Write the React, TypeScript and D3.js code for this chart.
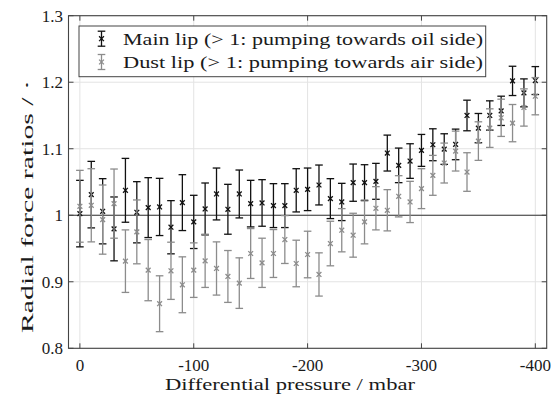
import React from "react";
import * as d3 from "d3";

const pressure = [0,-10,-20,-30,-40,-50,-60,-70,-80,-90,-100,-110,-120,-130,-140,-150,-160,-170,-180,-190,-200,-210,-220,-230,-240,-250,-260,-270,-280,-290,-300,-310,-320,-330,-340,-350,-360,-370,-380,-390,-400];
const mainVal = [1.0025,1.031,1.006,0.9795,1.0375,1.0045,1.0115,1.0125,0.982,1.019,0.99,1.0095,1.032,1.009,1.032,1.0175,1.0185,1.0145,1.0145,1.0375,1.039,1.0455,1.025,1.02,1.049,1.049,1.051,1.0935,1.075,1.0815,1.0975,1.106,1.0995,1.1065,1.15,1.131,1.15,1.157,1.202,1.184,1.2025];
const mainErr = [0.05,0.05,0.049,0.048,0.048,0.046,0.045,0.043,0.04,0.042,0.04,0.039,0.039,0.0375,0.036,0.035,0.035,0.033,0.033,0.0325,0.032,0.03,0.03,0.028,0.028,0.027,0.027,0.027,0.026,0.026,0.024,0.024,0.023,0.023,0.023,0.022,0.022,0.022,0.022,0.021,0.021];
const dustVal = [1.0135,1.015,0.9935,1.0175,0.931,0.975,0.9175,0.867,0.9165,0.8955,0.9175,0.9315,0.92,0.908,0.898,0.9425,0.9285,0.9425,0.9635,0.9275,0.941,0.911,0.9575,0.9775,0.97,0.99,1.0105,1.0075,1.0285,1.02,1.04,1.06,1.0785,1.0965,1.065,1.1115,1.131,1.1465,1.1385,1.162,1.179];
const dustErr = [0.054,0.055,0.052,0.052,0.047,0.048,0.046,0.042,0.043,0.042,0.041,0.04,0.04,0.039,0.038,0.0375,0.037,0.036,0.036,0.035,0.035,0.0325,0.0335,0.0325,0.033,0.033,0.0325,0.031,0.031,0.031,0.03,0.03,0.03,0.03,0.029,0.029,0.029,0.028,0.028,0.028,0.028];
const xTicks = [0,-100,-200,-300,-400];
const yTicks = [0.8,0.9,1.0,1.1,1.2,1.3];
const seriesNames = ["Main lip (> 1: pumping towards oil side)", "Dust lip (> 1: pumping towards air side)"];
const seriesColors = ["#111111", "#8c8c8c"];

const W = 554, H = 404;
const L = 68.5, R = 546.7, T = 15.7, B = 348.3;
const FONT = "Liberation Serif";

const x = d3.scaleLinear().domain([10, -410]).range([L, R]);
const y = d3.scaleLinear().domain([0.8, 1.3]).range([B, T]);

function ErrBar({ cx, cy, top, bot, color }: { cx: number; cy: number; top: number; bot: number; color: string }) {
  const cap = 3.8, m = 2.4;
  return (
    <g stroke={color} strokeWidth={1.3} fill="none">
      <line x1={cx} x2={cx} y1={top} y2={bot} />
      <line x1={cx - cap} x2={cx + cap} y1={top} y2={top} />
      <line x1={cx - cap} x2={cx + cap} y1={bot} y2={bot} />
      <line x1={cx - m} x2={cx + m} y1={cy - m} y2={cy + m} />
      <line x1={cx - m} x2={cx + m} y1={cy + m} y2={cy - m} />
    </g>
  );
}

const tStyle = { fontFamily: FONT };

export default function App() {
  const series = [
    { vals: mainVal, errs: mainErr, color: seriesColors[0] },
    { vals: dustVal, errs: dustErr, color: seriesColors[1] },
  ];
  return (
    <svg width={W} height={H} style={{ position: "absolute", left: 0, top: 0, background: "#fff", fontFamily: FONT }}>
      <rect x={0} y={0} width={W} height={H} fill="#fff" />
      {xTicks.map((t) => (
        <line key={"gx" + t} x1={x(t)} x2={x(t)} y1={T} y2={B} stroke="#e3e3e3" strokeWidth={1} />
      ))}
      {yTicks.map((t) => (
        <line key={"gy" + t} x1={L} x2={R} y1={y(t)} y2={y(t)} stroke="#e3e3e3" strokeWidth={1} />
      ))}
      <line x1={L} x2={R} y1={y(1)} y2={y(1)} stroke="#333" strokeWidth={1.1} />
      {series.map((s, si) => (
        <g key={si}>
          {pressure.map((p, i) => (
            <ErrBar key={i} cx={x(p)} cy={y(s.vals[i])} top={y(s.vals[i] + s.errs[i])} bot={y(s.vals[i] - s.errs[i])} color={s.color} />
          ))}
        </g>
      ))}
      <rect x={L} y={T} width={R - L} height={B - T} fill="none" stroke="#444" strokeWidth={1.1} />
      {xTicks.map((t) => (
        <g key={"tx" + t} stroke="#444" strokeWidth={1}>
          <line x1={x(t)} x2={x(t)} y1={B} y2={B - 5} />
          <line x1={x(t)} x2={x(t)} y1={T} y2={T + 5} />
        </g>
      ))}
      {yTicks.map((t) => (
        <g key={"ty" + t} stroke="#444" strokeWidth={1}>
          <line x1={L} x2={L + 5} y1={y(t)} y2={y(t)} />
          <line x1={R} x2={R - 5} y1={y(t)} y2={y(t)} />
        </g>
      ))}
      {xTicks.map((t) => (
        <text key={"lx" + t} x={x(t)} y={371} textAnchor="middle" fontSize={17} fill="#1a1a1a" fontFamily={FONT} style={tStyle}>
          {t === 0 ? "0" : String(t)}
        </text>
      ))}
      {yTicks.map((t) => (
        <text key={"ly" + t} x={63} y={y(t) + 6} textAnchor="end" fontSize={17} fill="#1a1a1a" fontFamily={FONT} style={tStyle}>
          {t === 1 ? "1" : t.toFixed(1)}
        </text>
      ))}
      <text x={290} y={389.5} textAnchor="middle" fontSize={17.5} fill="#1a1a1a" textLength={250} lengthAdjust="spacingAndGlyphs" fontFamily={FONT} style={tStyle}>
        Differential pressure / mbar
      </text>
      <text transform={`translate(32.5,${(80 + 333) / 2}) rotate(-90)`} textAnchor="middle" fontSize={17.5} fill="#1a1a1a" textLength={253} lengthAdjust="spacingAndGlyphs" fontFamily={FONT} style={tStyle}>
        Radial force ratios / ·
      </text>
      <rect x={79} y={26} width={406.7} height={50.7} fill="#fff" stroke="#444" strokeWidth={1} />
      {seriesNames.map((n, i) => {
        const cy = 38.7 + i * 23.3;
        return (
          <g key={n}>
            <ErrBar cx={101.5} cy={cy} top={cy - 7.5} bot={cy + 7.5} color={seriesColors[i]} />
            <text x={123} y={cy + 6} fontSize={17.5} fill="#1a1a1a" textLength={360} lengthAdjust="spacingAndGlyphs" fontFamily={FONT} style={tStyle}>
              {n}
            </text>
          </g>
        );
      })}
    </svg>
  );
}
